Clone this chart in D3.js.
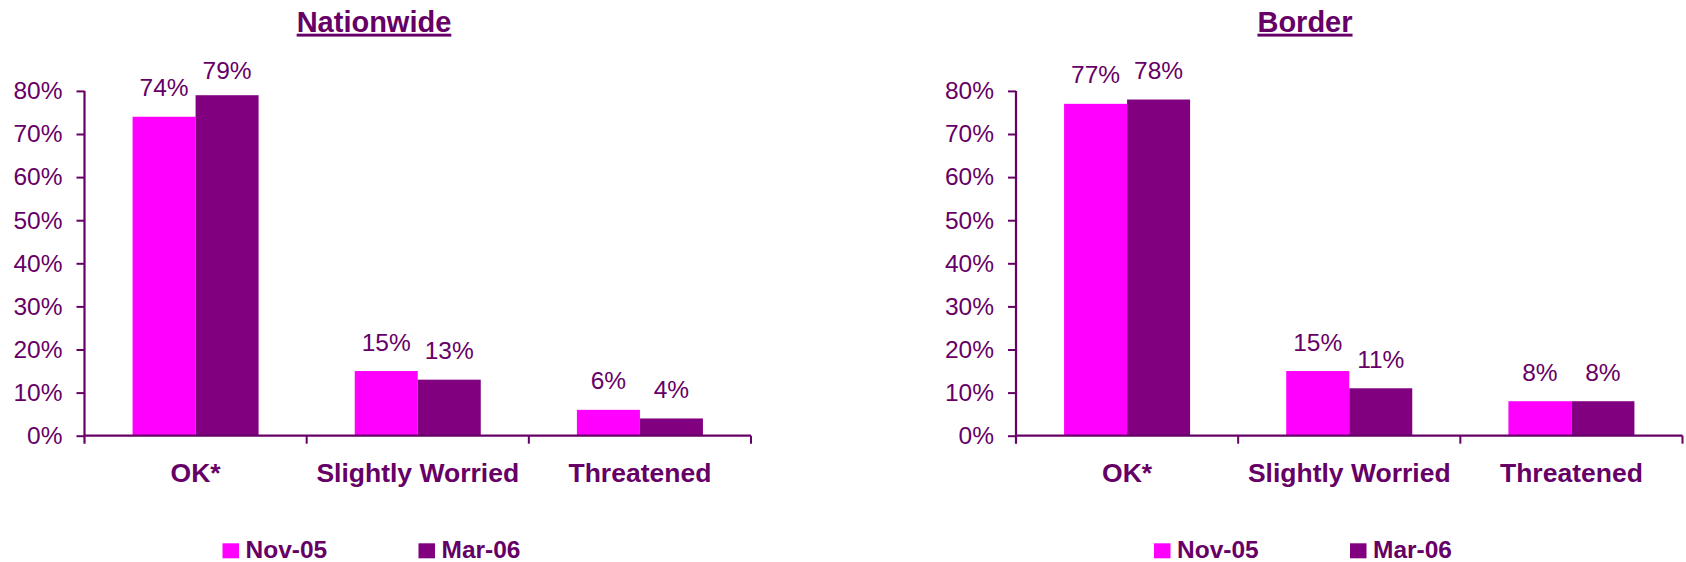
<!DOCTYPE html>
<html>
<head>
<meta charset="utf-8">
<script src="https://cdn.jsdelivr.net/npm/d3@7"></script>
<style>
  html, body { margin: 0; padding: 0; background: #fff; }
  svg { display: block; }
  text { font-family: Arial, "Liberation Sans", sans-serif; }
</style>
</head>
<body>
<svg id="chart" width="1686" height="562"></svg>
<script>
// ---- data ----
const categories = ["OK*", "Slightly Worried", "Threatened"];
const seriesNames = ["Nov-05", "Mar-06"];
const panelTitles = ["Nationwide", "Border"];
const nationwideNov05 = [74, 15, 6];
const nationwideMar06 = [79, 13, 4];
const borderNov05 = [77, 15, 8];
const borderMar06 = [78, 11, 8];
const yTicks = [0, 10, 20, 30, 40, 50, 60, 70, 80];

const panels = [
  { title: panelTitles[0], values: [nationwideNov05, nationwideMar06] },
  { title: panelTitles[1], values: [borderNov05, borderMar06] }
];

// ---- style ----
const colors = ["#FF00FF", "#800080"];
const textColor = "#660066";
const axisColor = "#660066";

const svg = d3.select("#chart");

const plotW = 666.5;
const y0 = 435.7, yTop80 = 90.9;
const y = d3.scaleLinear().domain([0, 80]).range([y0, yTop80]);

const panelX = [84.5, 1016];

panels.forEach((p, pi) => {
  const g = svg.append("g").attr("transform", `translate(${panelX[pi]},0)`);

  const x0 = d3.scaleBand().domain(categories).range([0, plotW]).paddingInner(0).paddingOuter(0);
  const x1 = d3.scaleBand().domain(seriesNames).range([0, x0.bandwidth()]).paddingInner(0).paddingOuter(0.763);

  // title
  g.append("text")
    .attr("x", 374 - 84.5 + (pi === 1 ? -0.5 : 0))
    .attr("y", 31.7)
    .attr("text-anchor", "middle")
    .attr("font-size", 29)
    .attr("font-weight", "bold")
    .attr("fill", textColor)
    .style("text-decoration", "underline")
    .text(p.title);

  // bars
  seriesNames.forEach((s, si) => {
    const vals = p.values[si];
    g.selectAll(null).data(categories).enter().append("rect")
      .attr("x", (c) => x0(c) + x1(s))
      .attr("y", (c, i) => y(vals[i]))
      .attr("width", x1.bandwidth())
      .attr("height", (c, i) => y0 - y(vals[i]))
      .attr("fill", colors[si]);

    g.selectAll(null).data(categories).enter().append("text")
      .attr("x", (c) => x0(c) + x1(s) + x1.bandwidth() / 2)
      .attr("y", (c, i) => Math.max(y(vals[i]) - 20.5, 79))
      .attr("text-anchor", "middle")
      .attr("font-size", 24.5)
      .attr("fill", textColor)
      .text((c, i) => vals[i] + "%");
  });

  // y axis
  const yAxis = d3.axisLeft(y).tickValues(yTicks).tickSize(8).tickPadding(14).tickFormat(d => d + "%");
  const ya = g.append("g").call(yAxis);
  ya.select(".domain").attr("d", `M0,${y(80)}V${y0 + 8}`).attr("stroke", axisColor).attr("stroke-width", 2.2).attr("fill", "none");
  ya.selectAll(".tick line").attr("stroke", axisColor).attr("stroke-width", 2);
  ya.selectAll(".tick text").attr("fill", textColor).attr("font-size", 24.5)
    .attr("font-family", 'Arial, "Liberation Sans", sans-serif');

  // x axis line and boundary ticks
  g.append("line").attr("x1", 0).attr("x2", plotW).attr("y1", y0).attr("y2", y0)
    .attr("stroke", axisColor).attr("stroke-width", 2.2);
  const bounds = categories.map(c => x0(c) + x0.bandwidth());
  g.selectAll(null).data(bounds).enter().append("line")
    .attr("x1", d => d).attr("x2", d => d).attr("y1", y0).attr("y2", y0 + 8)
    .attr("stroke", axisColor).attr("stroke-width", 2);

  // category labels
  g.selectAll(null).data(categories).enter().append("text")
    .attr("x", c => x0(c) + x0.bandwidth() / 2)
    .attr("y", 481.7)
    .attr("text-anchor", "middle")
    .attr("font-size", 26.5)
    .attr("font-weight", "bold")
    .attr("fill", textColor)
    .text(c => c);

  // legend
  const legX = [138, 334];
  seriesNames.forEach((s, si) => {
    g.append("rect").attr("x", legX[si]).attr("y", 543.3).attr("width", 16.5).attr("height", 15)
      .attr("fill", colors[si]);
    g.append("text").attr("x", legX[si] + 23).attr("y", 558.3)
      .attr("font-size", 24.5).attr("font-weight", "bold").attr("fill", textColor)
      .text(s);
  });
});
</script>
</body>
</html>
